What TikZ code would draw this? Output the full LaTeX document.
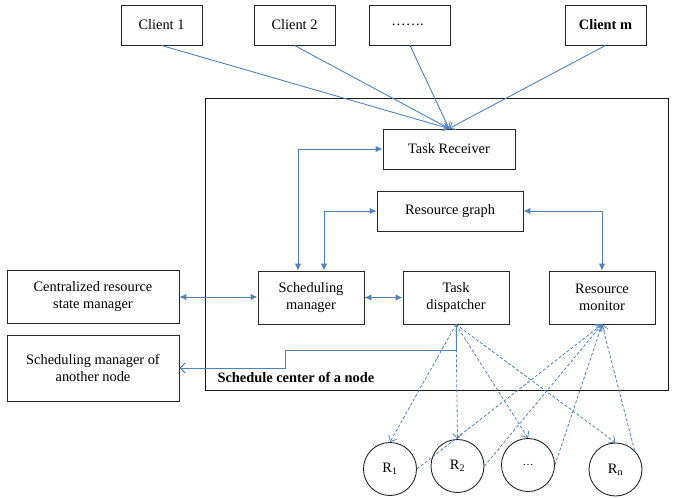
\documentclass[tikz,border=0pt]{standalone}
\usepackage{fontspec}
\setmainfont{Liberation Serif}
\usetikzlibrary{arrows.meta}
\definecolor{lineblue}{RGB}{79,129,189}
\begin{document}
\begin{tikzpicture}[x=1pt,y=-1pt,
  font=\fontsize{14.4}{17}\selectfont,
  box/.style={draw=black!85, line width=0.9pt, inner sep=0pt, align=center, minimum width=106pt, minimum height=53pt},
  clientbox/.style={box, minimum width=81pt, minimum height=40pt},
  res/.style={circle, draw=black!85, line width=0.9pt, minimum size=53pt, inner sep=0pt},
  duplex/.style={draw=lineblue, line width=1pt, {Latex[length=7pt,width=6.5pt]}-{Latex[length=7pt,width=6.5pt]}},
  clientarrow/.style={draw=lineblue, line width=0.9pt, -{Straight Barb[length=5pt,width=8pt]}},
  openarrow/.style={draw=lineblue, line width=1pt, -{Straight Barb[length=5pt,width=10pt]}},
  dasharrow/.style={draw=lineblue, line width=0.8pt, dash pattern=on 3pt off 2pt, -{Straight Barb[length=5pt,width=9pt]}}
]
\useasboundingbox (0,0) rectangle (673,498);

% outer frame
\node[draw=black!90, line width=1pt, minimum width=463pt, minimum height=292pt, inner sep=0pt] (frame) at (436.5,244) {};
\node[anchor=west, font=\fontsize{14.4}{17}\selectfont\bfseries] (framelabel) at (214,378) {Schedule center of a node};

% clients
\node[clientbox] (c1) at (161.5,25) {Client 1};
\node[clientbox] (c2) at (294.5,25) {Client 2};
\node[clientbox] (cd) at (410,25) {……. };
\node[clientbox, font=\fontsize{14.4}{17}\selectfont\bfseries] (cm) at (605.5,25) {Client m};

% inner boxes
\node[box, minimum width=132pt, minimum height=40pt] (tr) at (449,149) {Task Receiver};
\node[box, minimum width=146pt, minimum height=40pt] (rg) at (450,211) {Resource graph};
\node[box] (sm) at (311,297.5) {Scheduling\\manager};
\node[box] (td) at (456,297.5) {Task\\dispatcher};
\node[box] (rm) at (602,297.5) {Resource\\monitor};

% outside boxes
\node[box, minimum width=172pt, minimum height=53pt] (crs) at (93,297) {Centralized resource\\state manager};
\node[box, minimum width=172pt, minimum height=66pt] (smo) at (93,368) {Scheduling manager of\\another node};

% resources
\node[res] (r1) at (390,469) {R\textsubscript{1}};
\node[res] (r2) at (457.5,466) {\raisebox{3pt}{R\textsubscript{2}}};
\node[res] (r3) at (528,465) {\fontsize{11}{12}\selectfont …};
\node[res] (rn) at (615.5,469.5) {R\textsubscript{n}};

% client arrows
\draw[clientarrow] (c1.south) -- (tr.north);
\draw[clientarrow] (c2.south) -- (tr.north);
\draw[clientarrow] (cd.south) -- (tr.north);
\draw[clientarrow] (cm.south) -- (tr.north);

% solid duplex arrows
\draw[duplex] ([xshift=-13pt]sm.north) |- (tr.west);
\draw[duplex] ([xshift=13pt]sm.north) |- (rg.west);
\draw[duplex] (rg.east) -| (rm.north);
\draw[duplex] (crs.east) -- (sm.west |- crs.east);
\draw[duplex] (sm.east) -- (td.west);

% dispatcher to other node
\coordinate (j1) at (285,350);
\draw[openarrow] (td.south) |- (j1) |- (smo.east);

% dispatcher to resources
\draw[dasharrow] (td.south) -- (r1.north);
\draw[dasharrow] (td.south) -- (r2.north);
\draw[dasharrow] (td.south) -- (r3.north);
\draw[dasharrow] (td.south) -- (rn.north);

% resources to monitor
\draw[dasharrow] (r1.east) -- (rm.south);
\draw[dasharrow] (r2.east) -- (rm.south);
\draw[dasharrow] (r3.east) -- (rm.south);
\draw[dasharrow] (rn.north east) -- (rm.south);
\end{tikzpicture}
\end{document}
